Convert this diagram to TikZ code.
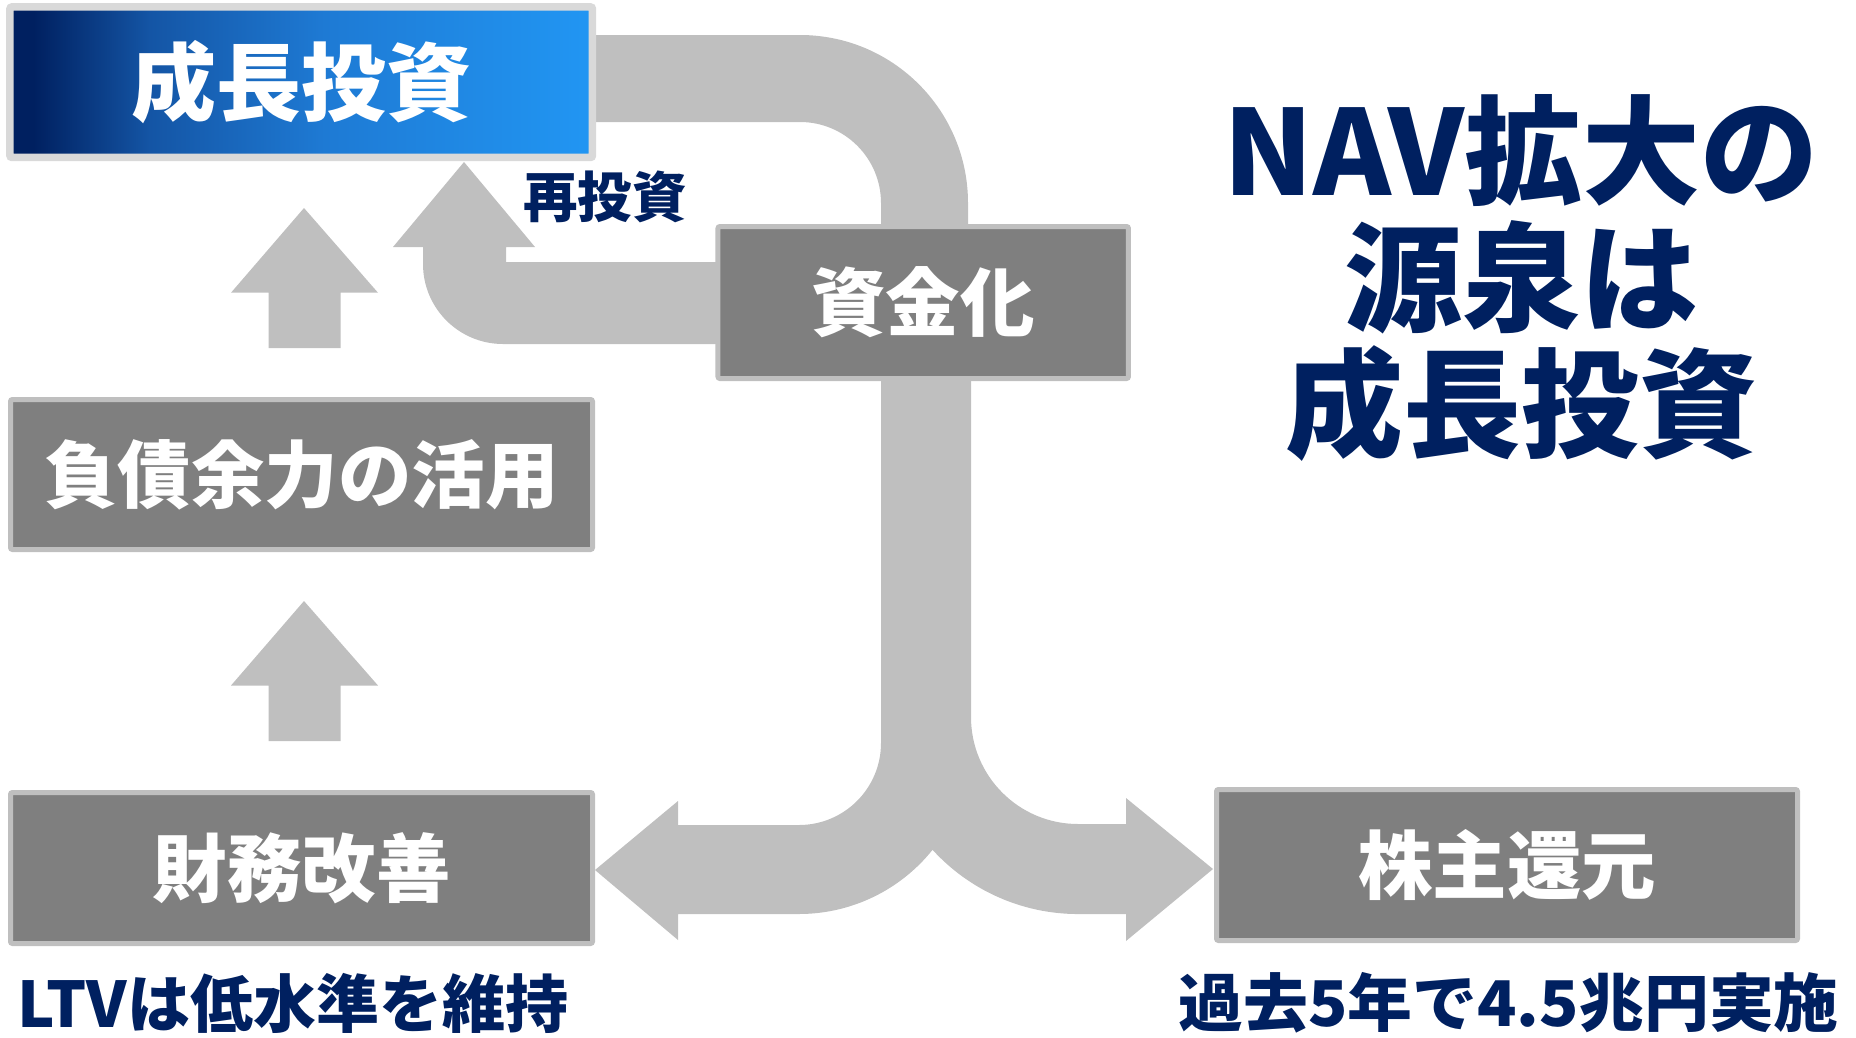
\documentclass[tikz,border=0pt]{standalone}
\usepackage{fontspec}
\setmainfont{Noto Sans CJK JP}
\usetikzlibrary{backgrounds}
\definecolor{navy}{RGB}{0,32,96}
\definecolor{arrowgray}{RGB}{191,191,191}
\definecolor{boxgray}{RGB}{127,127,127}
\definecolor{boxline}{RGB}{191,191,191}
\definecolor{growline}{RGB}{217,217,217}
\definecolor{gA}{RGB}{0,32,96}
\definecolor{gB}{RGB}{20,85,165}
\definecolor{gC}{RGB}{30,122,212}
\definecolor{gD}{RGB}{33,150,243}
\pgfdeclarehorizontalshading{growshade}{100bp}{color(0bp)=(gA); color(27bp)=(gA); color(37bp)=(gB); color(52bp)=(gC); color(75bp)=(gD); color(100bp)=(gD)}
\begin{document}
\begin{tikzpicture}[x=1pt,y=-1pt,
  graybox/.style={draw=boxline, line width=5pt, fill=boxgray, rounded corners=2pt,
    inner sep=0pt, text=white, font=\bfseries\fontsize{74.5}{74.5}\selectfont},
  growbox/.style={draw=growline, line width=7.5pt, shading=growshade, rounded corners=2pt,
    inner sep=0pt, text=white, font=\bfseries\fontsize{85}{85}\selectfont,
    minimum width=582.5pt, minimum height=150.5pt},
  navytext/.style={inner sep=0pt, text=navy},
  blockarrow/.style={fill=arrowgray, draw=none}]
\useasboundingbox (0,0) rectangle (1856,1037);

% boxes
\node[growbox] (grow) at (301.2,82.2) {成長投資};
\node[graybox, minimum width=582pt, minimum height=150pt, font=\bfseries\fontsize{73.5}{73.5}\selectfont] (debt) at (301.5,474.5) {負債余力の活用};
\node[graybox, minimum width=582pt, minimum height=151pt] (fin) at (301.5,868) {財務改善};
\node[graybox, minimum width=410.5pt, minimum height=152pt] (fund) at (923.2,302.5) {資金化};
\node[graybox, minimum width=581pt, minimum height=151pt] (share) at (1507,865) {株主還元};

% texts
\node[navytext, font=\bfseries\fontsize{54.5}{54.5}\selectfont] (reinv) at (605,197) {再投資};
\node[navytext, align=center, font=\bfseries\fontsize{118}{126.5}\selectfont] (title) at (1521,278) {NAV拡大の\\源泉は\\成長投資};
\node[navytext, anchor=west, font=\bfseries\fontsize{63}{63}\selectfont] (ltv) at (17,1003) {LTVは低水準を維持};
\node[navytext, anchor=east, font=\bfseries\fontsize{63}{63}\selectfont] (past) at (1839,1003) {\scalebox{1.03}[1]{過去5年で4.5兆円実施}};

\begin{pgfonlayer}{background}
% up arrow: debt -> grow
\fill[blockarrow] (304,208) -- (378,292.7) -- (340.5,292.7) -- (340.5,348) -- (268.5,348)
  -- (268.5,292.7) -- (231,292.7) -- cycle;
% up arrow: fin -> debt
\fill[blockarrow] (304,601) -- (378,685.5) -- (340.5,685.5) -- (340.5,741) -- (268.5,741)
  -- (268.5,685.5) -- (231,685.5) -- cycle;
% reinvest arrow: fund -> grow
\fill[blockarrow] (464,162) -- (535,247) -- (506,247) -- (506,262) -- (725,262) -- (725,344)
  -- (503,344) arc[start angle=90, end angle=180, radius=80] -- (423,247) -- (393,247) -- cycle;
% top loop: grow -> fund
\fill[blockarrow] (590,35) -- (800,35) arc[start angle=-90, end angle=0, radius=168]
  -- (968,232) -- (881,232) -- (881,203) arc[start angle=0, end angle=-90, radius=81]
  -- (590,122) -- cycle;
% split: fund -> fin and fund -> share
\fill[blockarrow] (881,375) -- (881,743) arc[start angle=0, end angle=90, radius=82]
  -- (678,825) -- (678,801) -- (595,870) -- (678,940) -- (678,914) -- (799,914)
  arc[start angle=90, end angle=38.6, radius=171]
  -- (931.9,849.1) arc[start angle=137.9, end angle=90, radius=197]
  -- (1126,914) -- (1126,941) -- (1213,869) -- (1126,798) -- (1126,824) -- (1078,824)
  arc[start angle=90, end angle=180, radius=107] -- (971,375) -- cycle;
\end{pgfonlayer}
\end{tikzpicture}
\end{document}
